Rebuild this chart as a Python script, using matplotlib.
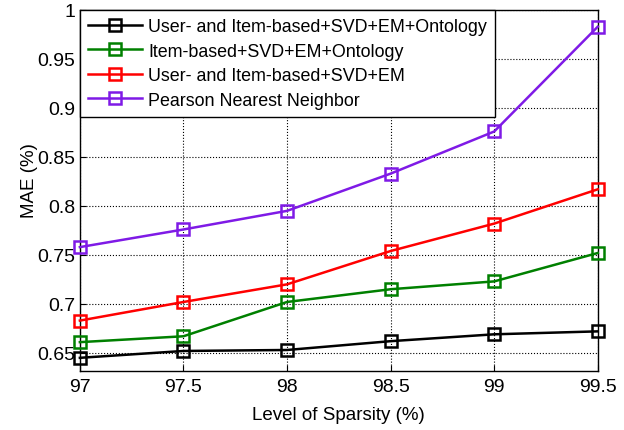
import matplotlib
matplotlib.use('Agg')
import matplotlib.pyplot as plt

sparsity = [97, 97.5, 98, 98.5, 99, 99.5]
mae_user_item_ont = [0.645, 0.652, 0.653, 0.662, 0.669, 0.672]
mae_item_ont = [0.661, 0.667, 0.702, 0.715, 0.723, 0.752]
mae_user_item = [0.683, 0.702, 0.720, 0.754, 0.782, 0.817]
mae_pearson = [0.758, 0.776, 0.795, 0.833, 0.876, 0.983]

labels = ['User- and Item-based+SVD+EM+Ontology',
          'Item-based+SVD+EM+Ontology',
          'User- and Item-based+SVD+EM',
          'Pearson Nearest Neighbor']
colors = ['black', '#008000', '#ff0000', '#7f1ae6']

plt.rcParams['font.family'] = ['Liberation Sans', 'DejaVu Sans']

fig = plt.figure(figsize=(6.24, 4.31), dpi=100)
ax = fig.add_axes([0.128, 0.137, 0.83, 0.8375])

for ys, lab, c in zip([mae_user_item_ont, mae_item_ont, mae_user_item, mae_pearson], labels, colors):
    ax.plot(sparsity, ys, '-s', color=c, lw=1.8, ms=9, mfc='none', mew=1.8,
            label=lab, clip_on=False, zorder=3)

ax.set_xlim(97, 99.5)
ax.set_ylim(0.6316, 1.0)
ax.set_xticks(sparsity)
ax.set_xticklabels(['97', '97.5', '98', '98.5', '99', '99.5'])
ax.set_yticks([0.65, 0.7, 0.75, 0.8, 0.85, 0.9, 0.95, 1.0])
ax.set_yticklabels(['0.65', '0.7', '0.75', '0.8', '0.85', '0.9', '0.95', '1'])
ax.tick_params(labelsize=14, direction='in', length=4)
ax.tick_params(axis='x', pad=5)
ax.grid(True, color='black', linestyle=':', linewidth=0.8)
ax.set_axisbelow(True)
for s in ax.spines.values():
    s.set_linewidth(1.0)

ax.set_xlabel('Level of Sparsity (%)', fontsize=13.5, labelpad=8)
ax.set_ylabel('MAE (%)', fontsize=13.5)
ax.yaxis.set_label_coords(-0.08, 0.53)

leg = ax.legend(loc='upper left', bbox_to_anchor=(0, 1), borderaxespad=0,
                fancybox=False, edgecolor='black', framealpha=1, fontsize=12.9,
                handlelength=3.0, handletextpad=0.35, labelspacing=0.42,
                borderpad=0.45)
leg.get_frame().set_linewidth(1.0)
leg.set_zorder(5)

fig.savefig('out.png', dpi=100)
